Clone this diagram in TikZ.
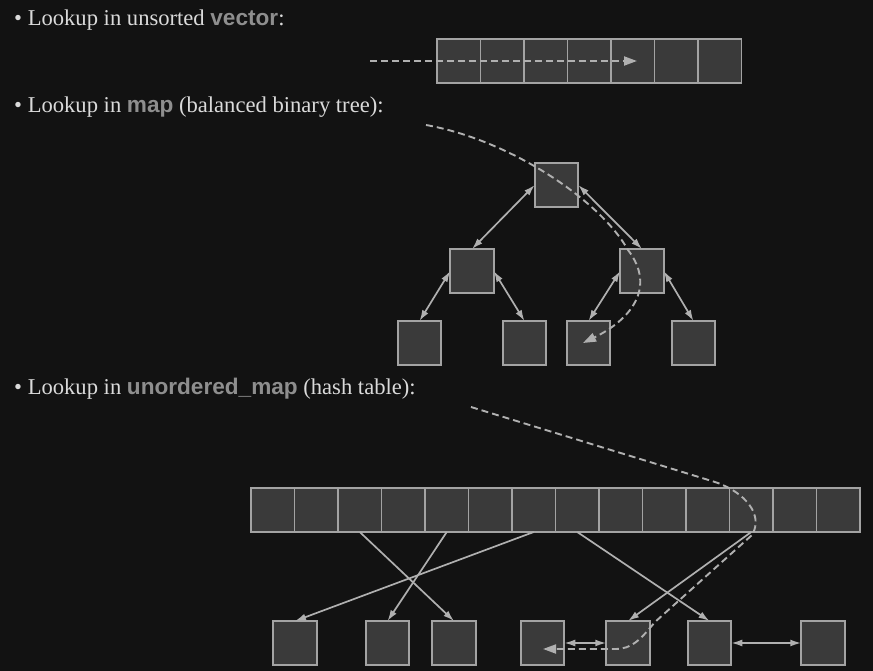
\documentclass[tikz,border=0pt]{standalone}
\usepackage{fontspec}
\setmainfont{Liberation Serif}
\setsansfont{Liberation Sans}
\usepackage{xcolor}
\usetikzlibrary{arrows.meta,positioning}

\definecolor{bg}{HTML}{121212}
\definecolor{cellfill}{HTML}{3A3A3A}
\definecolor{celledge}{HTML}{A3A3A3}
\definecolor{linkgray}{HTML}{B0B0B0}
\definecolor{textgray}{HTML}{DADADA}
\definecolor{keygray}{HTML}{8E8E8E}
\newcommand{\kw}[1]{{\sffamily\bfseries\color{keygray}#1}}

\begin{document}
\begin{tikzpicture}[
  x=1pt, y=-1pt,
  cell/.style={draw=celledge, fill=cellfill, line width=1.8pt, minimum width=43.5pt, minimum height=44pt, inner sep=0pt, outer sep=0pt},
  heading/.style={anchor=base west, inner sep=0pt, text=textgray, font=\fontsize{22.6}{26}\selectfont},
  link/.style={{Latex[length=11pt,width=7pt]}-{Latex[length=11pt,width=7pt]}, draw=linkgray, line width=1.7pt},
  ptr/.style={-{Latex[length=11pt,width=7pt]}, draw=linkgray, line width=1.7pt},
  search/.style={-{Triangle[length=13pt,width=9pt]}, draw=linkgray, line width=1.9pt, dash pattern=on 7pt off 4pt}
]
\fill[bg] (0,0) rectangle (873,671);

% headings
\node[heading] (t1) at (14,26) {• Lookup in unsorted \kw{vector}:};
\node[heading] (t2) at (14,113) {• Lookup in \kw{map} (balanced binary tree):};
\node[heading] (t3) at (14,394) {• Lookup in \kw{unordered\_map} (hash table):};

% vector
\node[cell] (v1) at (458.7,61) {};
\node[cell, right=0pt of v1] (v2) {};
\node[cell, right=0pt of v2] (v3) {};
\node[cell, right=0pt of v3] (v4) {};
\node[cell, right=0pt of v4] (v5) {};
\node[cell, right=0pt of v5] (v6) {};
\node[cell, right=0pt of v6] (v7) {};
\coordinate (vstart) at (370,61);
\coordinate (vhit) at (637,61);
\draw[search] (vstart) -- (vhit);

% map
\node[cell] (root) at (556.5,185) {};
\node[cell, below left=42pt and 41pt of root] (l) {};
\node[cell, below right=42pt and 42pt of root] (r) {};
\node[cell, below left=28pt and 9pt of l] (ll) {};
\node[cell, below right=28pt and 9pt of l] (lr) {};
\node[cell, below left=28pt and 10pt of r] (rl) {};
\node[cell, below right=28pt and 8pt of r] (rr) {};
\draw[link] (root.west) -- (l.north);
\draw[link] (root.east) -- (r.north);
\draw[link] (l.west) -- (ll.north);
\draw[link] (l.east) -- (lr.north);
\draw[link] (r.west) -- (rl.north);
\draw[link] (r.east) -- (rr.north);
\coordinate (mstart) at (426,125);
\coordinate (mhit) at (583,343);
\draw[search] (mstart) .. controls (510,140) and (600,200) .. (628,250)
  .. controls (657,288) and (630,320) .. (mhit);

% unordered_map
\node[cell] (h1) at (272.75,510) {};
\node[cell, right=0pt of h1] (h2) {};
\node[cell, right=0pt of h2] (h3) {};
\node[cell, right=0pt of h3] (h4) {};
\node[cell, right=0pt of h4] (h5) {};
\node[cell, right=0pt of h5] (h6) {};
\node[cell, right=0pt of h6] (h7) {};
\node[cell, right=0pt of h7] (h8) {};
\node[cell, right=0pt of h8] (h9) {};
\node[cell, right=0pt of h9] (h10) {};
\node[cell, right=0pt of h10] (h11) {};
\node[cell, right=0pt of h11] (h12) {};
\node[cell, right=0pt of h12] (h13) {};
\node[cell, right=0pt of h13] (h14) {};
\node[cell] (b1) at (295,643) {};
\node[cell, right=49pt of b1] (b2) {};
\node[cell, right=23pt of b2] (b3) {};
\node[cell, right=45pt of b3] (b4) {};
\node[cell, right=42pt of b4] (b5) {};
\node[cell, right=38pt of b5] (b6) {};
\node[cell, right=70pt of b6] (b7) {};
\draw[ptr] (h3.south) -- (b3.north);
\draw[ptr] (h5.south) -- (b2.north);
\draw[ptr] (h7.south) -- (b1.north);
\draw[ptr] (h8.south) -- (b6.north);
\draw[ptr] (h12.south) -- (b5.north);
\draw[link] (b4.east) -- (b5.west);
\draw[link] (b6.east) -- (b7.west);
\coordinate (hstart) at (471,407);
\coordinate (hhit) at (543,649);
\draw[search] (hstart) -- (715,482) .. controls (745,492) and (764,515) .. (752,535)
  -- (655,622) .. controls (640,640) and (632,649) .. (615,649) -- (hhit);
\end{tikzpicture}
\end{document}
